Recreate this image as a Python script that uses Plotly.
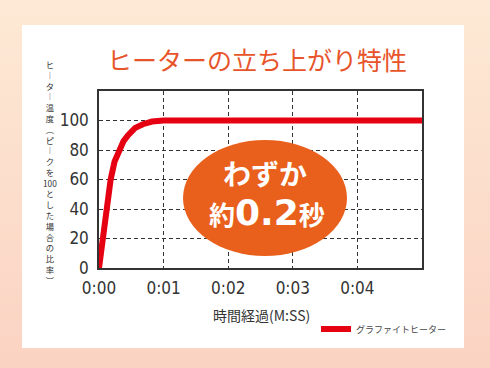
import plotly.graph_objects as go

# ---- data ----
time_s = [0, 0.06, 0.12, 0.18, 0.24, 0.31, 0.38, 0.45, 0.56, 0.68, 0.82, 1.0, 5.0]
temp_pct = [0, 22, 42, 60, 72, 80, 86, 90, 95, 97.5, 99.3, 100, 100]
series_name = "グラファイトヒーター"
x_tickvals = [0, 1, 2, 3, 4]
x_ticktext = ["0:00", "0:01", "0:02", "0:03", "0:04"]
y_tickvals = [0, 20, 40, 60, 80, 100]
title_text = "ヒーターの立ち上がり特性"
x_title = "時間経過(M:SS)"
# vertical writing (presentation forms for the long-vowel mark and parentheses)
y_title_chars = ["ヒ", "︱", "タ", "︱", "温", "度", "︵", "ピ", "︱", "ク", "を", "100",
                 "と", "し", "た", "場", "合", "の", "比", "率", "︶"]
badge_line1 = "わずか"
badge_line2 = ("約", "0.2", "秒")

# ---- layout geometry (pixels) ----
W_FIG, H_FIG = 490, 368
L, R, T, B = 99, 422, 91, 268
PW, PH = R - L, B - T


def px(x):
    return (x - L) / PW


def py(y):
    return (B - y) / PH


JP = "Noto Sans CJK JP, Noto Sans, sans-serif"
NUM = "Liberation Sans Narrow, DejaVu Sans Condensed, Arial Narrow, sans-serif"

fig = go.Figure()
fig.add_trace(go.Scatter(
    x=time_s, y=temp_pct, mode="lines", name=series_name,
    line=dict(color="#e50012", width=6), showlegend=True,
))

shapes = []
# background gradient stripes
top_c = (253, 233, 213)
bot_c = (251, 211, 195)
n = 46
for i in range(n):
    t = i / (n - 1)
    c = tuple(round(top_c[k] + (bot_c[k] - top_c[k]) * t) for k in range(3))
    y0 = i * H_FIG / n
    y1 = (i + 1) * H_FIG / n + 1
    shapes.append(dict(type="rect", xref="paper", yref="paper",
                       x0=px(-5), x1=px(W_FIG + 5), y0=py(y1), y1=py(y0),
                       fillcolor="rgb(%d,%d,%d)" % c, line=dict(width=0), layer="below"))
# white panel
shapes.append(dict(type="rect", xref="paper", yref="paper",
                   x0=px(22), x1=px(464), y0=py(348), y1=py(25),
                   fillcolor="white", line=dict(width=0), layer="below"))
# orange ellipse badge
shapes.append(dict(type="circle", xref="paper", yref="paper",
                   x0=px(183), x1=px(347), y0=py(256), y1=py(140),
                   fillcolor="#e8601c", line=dict(width=0), layer="above"))

ann = []
ann.append(dict(text=title_text, xref="paper", yref="paper", x=px(257), y=py(59),
                showarrow=False, xanchor="center", yanchor="middle",
                font=dict(family=JP, size=25, color="#e8542a")))
ann.append(dict(text=x_title, xref="paper", yref="paper", x=px(261), y=py(315),
                showarrow=False, xanchor="center", yanchor="middle",
                font=dict(family=JP, size=14, color="#333333")))
# vertical y-axis title (one character per line)
ann.append(dict(text="<br>".join(y_title_chars), xref="paper", yref="paper",
                x=px(50), y=py(172), showarrow=False, xanchor="center", yanchor="middle",
                align="center", font=dict(family=JP, size=8.3, color="#333333")))
# badge text
ann.append(dict(text="<b>%s</b>" % badge_line1, xref="paper", yref="paper", x=px(265), y=py(173),
                showarrow=False, xanchor="center", yanchor="middle",
                font=dict(family=JP, size=28, color="white")))
ann.append(dict(text="<b>%s<span style='font-size:36px;font-family:DejaVu Sans'>%s</span>%s</b>" % badge_line2,
                xref="paper", yref="paper", x=px(267), y=py(212),
                showarrow=False, xanchor="center", yanchor="middle",
                font=dict(family=JP, size=26, color="white")))

fig.update_layout(
    width=W_FIG, height=H_FIG, autosize=False,
    margin=dict(l=L, r=W_FIG - R, t=T, b=H_FIG - B, pad=0),
    paper_bgcolor="#fde9d5", plot_bgcolor="white",
    shapes=shapes, annotations=ann,
    legend=dict(x=px(316), y=py(329), xanchor="left", yanchor="middle",
                bgcolor="rgba(0,0,0,0)", font=dict(family=JP, size=9, color="#444444"),
                itemwidth=30),
    xaxis=dict(range=[0, 5], tickvals=x_tickvals, ticktext=x_ticktext,
               showgrid=True, gridcolor="#333333", gridwidth=1, griddash="4px,3px",
               showline=True, linecolor="#333333", linewidth=1.5, mirror=True,
               zeroline=False, ticks="", ticklabelstandoff=4,
               tickfont=dict(family=NUM, size=17, color="#333333")),
    yaxis=dict(range=[0, 120], tickvals=y_tickvals,
               showgrid=True, gridcolor="#333333", gridwidth=1, griddash="4px,3px",
               showline=True, linecolor="#333333", linewidth=1.5, mirror=True,
               zeroline=False, ticks="", ticklabelstandoff=5,
               tickfont=dict(family=NUM, size=17, color="#333333")),
)

fig.write_html("out.html", config={"displayModeBar": False},
               post_script="document.body.style.margin='0';")
